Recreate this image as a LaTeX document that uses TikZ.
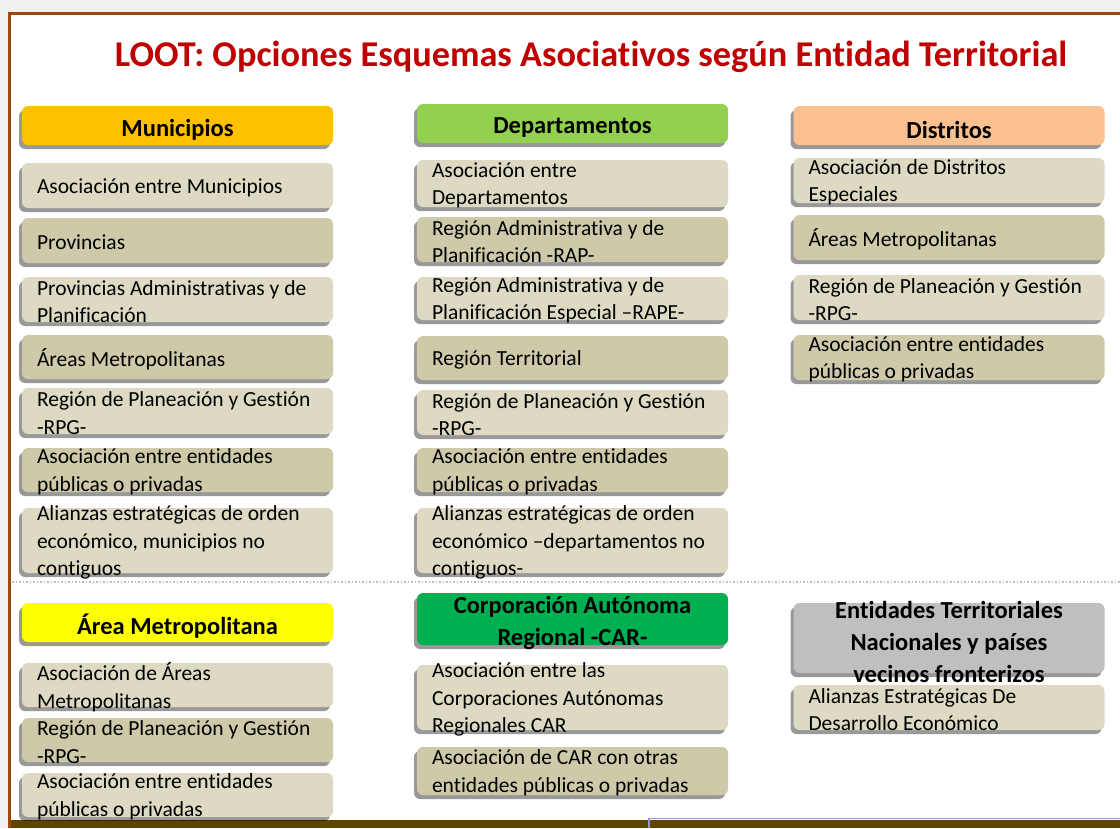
\documentclass[tikz,border=0pt]{standalone}
\usepackage{fontspec}
\setmainfont[Ligatures=NoCommon]{Carlito}
\usepackage{tikz}
\usetikzlibrary{shadows,positioning}
\definecolor{titulo}{HTML}{C00000}
\definecolor{marco}{HTML}{9E480E}
\definecolor{banda}{HTML}{5E4500}
\definecolor{claro}{HTML}{DDD9C3}
\definecolor{oscuro}{HTML}{CDC9A9}
\definecolor{muni}{HTML}{FFC000}
\definecolor{depto}{HTML}{92D050}
\definecolor{distr}{HTML}{FAC090}
\definecolor{amet}{HTML}{FFFF00}
\definecolor{car}{HTML}{00B050}
\definecolor{front}{HTML}{BFBFBF}

\begin{document}
\begin{tikzpicture}[
			x = 1pt, y = -1pt,
			caja/.style = {rounded corners = 6pt, inner sep = 0pt, minimum width = 311pt,
				drop shadow = {shadow xshift = -3pt, shadow yshift = -4pt, fill = black, opacity = 0.4}},
			cabeza/.style = {font = \fontsize{24.5}{32}\selectfont\bfseries, align = center, inner sep = 0pt, yshift = -4pt},
			opcion/.style = {font = \fontsize{21.5}{27.5}\selectfont, align = left, inner sep = 0pt, yshift = -2pt}
			]

			\useasboundingbox (0,0) rectangle (1120,828);
			\fill[black!6] (0,0) rectangle (1120,828);
			\fill[white] (10,14) rectangle (1120,820);
			\fill[banda] (11,820) rectangle (1120,828);
			\draw[marco, line width = 3pt] (9.5,828) -- (9.5,13.5) -- (1120,13.5);
			\draw[blue!35!gray!60, line width = 1.2pt] (649,828) -- (649,818.5) -- (1120,818.5);
			\draw[dotted, black!25, line width = 1.5pt] (12,582) -- (1120,582);

			\node[text = titulo, font = \fontsize{36.3}{42}\selectfont\bfseries] (titulo) at (591,57)
				{LOOT: Opciones Esquemas Asociativos según Entidad Territorial};

			% encabezados
			\foreach \n/\x/\y/\h/\c/\txt in {
				mun/177.5/125.5/39/muni/Municipios,
				dep/572.5/123.5/39/depto/Departamentos,
				dis/949/125.5/39/distr/Distritos,
				amet/177.5/622.5/39/amet/Área Metropolitana,
				car/572.5/619/52/car/{Corporación Autónoma\\Regional -CAR-},
				fro/949/638/70/front/{Entidades Territoriales\\Nacionales y países\\vecinos fronterizos}}{
				\node[caja, fill = \c, minimum height = {\h*1pt}] (\n) at (\x,\y) {};
				\node[cabeza] (t\n) at (\n) {\txt};
			}

			% Municipios
			\foreach \n/\y/\h/\c/\txt in {
				1/185.5/45/claro/Asociación entre Municipios,
				2/240.5/45/oscuro/Provincias,
				3/299.5/45/claro/{Provincias Administrativas y de\\Planificación},
				4/357/44/oscuro/Áreas Metropolitanas,
				5/411/46/claro/{Región de Planeación y Gestión\\-RPG-},
				6/470/44/oscuro/{Asociación entre entidades\\públicas o privadas},
				7/540.5/65/claro/{Alianzas estratégicas de orden\\económico, municipios no\\contiguos}}{
				\node[caja, fill = \c, minimum height = {\h*1pt}] (mun\n) at (177.5,\y) {};
				\node[opcion, right = 15pt of mun\n.west] (tmun\n) {\txt};
			}

			% Departamentos
			\foreach \n/\y/\h/\c/\txt in {
				1/183.5/47/claro/{Asociación entre\\Departamentos},
				2/239.5/45/oscuro/{Región Administrativa y de\\Planificación -RAP-},
				3/298.5/43/claro/{Región Administrativa y de\\Planificación Especial –RAPE-},
				4/358/44/oscuro/Región Territorial,
				5/412.5/45/claro/{Región de Planeación y Gestión\\-RPG-},
				6/470/44/oscuro/{Asociación entre entidades\\públicas o privadas},
				7/540.5/65/claro/{Alianzas estratégicas de orden\\económico –departamentos no\\contiguos-}}{
				\node[caja, fill = \c, minimum height = {\h*1pt}] (dep\n) at (572.5,\y) {};
				\node[opcion, right = 15pt of dep\n.west] (tdep\n) {\txt};
			}

			% Distritos
			\foreach \n/\y/\h/\c/\txt in {
				1/180.5/45/claro/{Asociación de Distritos\\Especiales},
				2/237.5/45/oscuro/Áreas Metropolitanas,
				3/297.5/45/claro/{Región de Planeación y Gestión\\-RPG-},
				4/357.5/45/oscuro/{Asociación entre entidades\\públicas o privadas}}{
				\node[caja, fill = \c, minimum height = {\h*1pt}] (dis\n) at (949,\y) {};
				\node[opcion, right = 15pt of dis\n.west] (tdis\n) {\txt};
			}

			% Area Metropolitana
			\foreach \n/\y/\h/\c/\txt in {
				1/685/44/claro/{Asociación de Áreas\\Metropolitanas},
				2/740/44/oscuro/{Región de Planeación y Gestión\\-RPG-},
				3/795/44/claro/{Asociación entre entidades\\públicas o privadas}}{
				\node[caja, fill = \c, minimum height = {\h*1pt}] (amet\n) at (177.5,\y) {};
				\node[opcion, right = 15pt of amet\n.west] (tamet\n) {\txt};
			}

			% CAR
			\foreach \n/\y/\h/\c/\txt in {
				1/697.5/65/claro/{Asociación entre las\\Corporaciones Autónomas\\Regionales CAR},
				2/771/48/oscuro/{Asociación de CAR con otras\\entidades públicas o privadas}}{
				\node[caja, fill = \c, minimum height = {\h*1pt}] (car\n) at (572.5,\y) {};
				\node[opcion, right = 15pt of car\n.west] (tcar\n) {\txt};
			}

			% fronterizos
			\node[caja, fill = claro, minimum height = 45pt] (fro1) at (949,707.5) {};
			\node[opcion, right = 15pt of fro1.west] (tfro1) {Alianzas Estratégicas De\\Desarrollo Económico};

		\end{tikzpicture}
\end{document}
